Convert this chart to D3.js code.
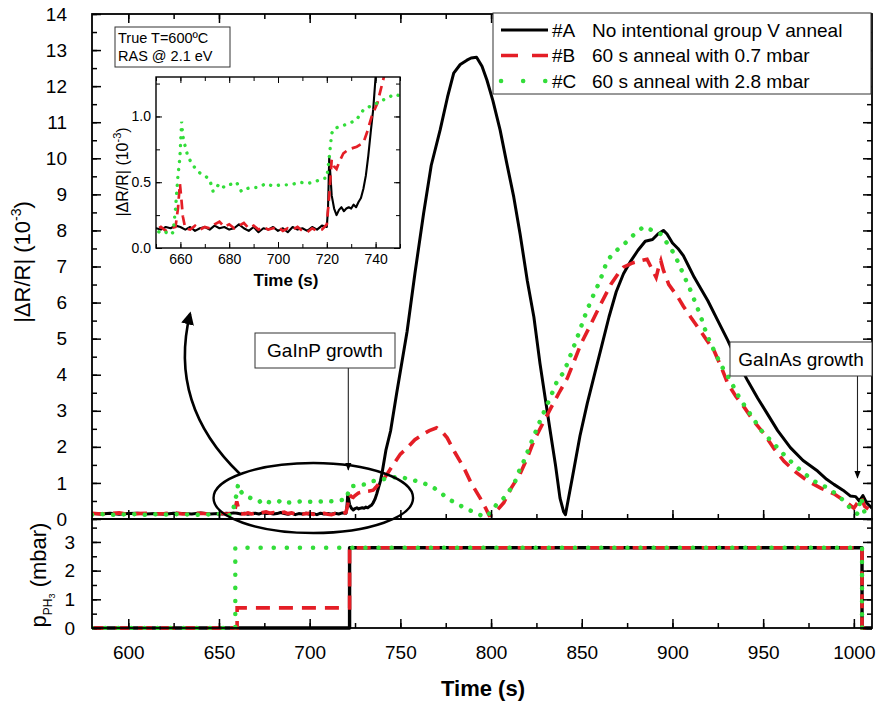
<!DOCTYPE html>
<html>
<head>
<meta charset="utf-8">
<script src="https://cdn.jsdelivr.net/npm/d3@7"></script>
<style>
  body { margin: 0; background: #fff; }
  svg text { font-family: "Liberation Sans", Arial, sans-serif; fill: #000; }
</style>
</head>
<body>
<div id="chart"></div>
<script>
// RAS transients, |dR/R| (10^-3) vs time (s)
const timeA = [580, 585, 590, 595, 600, 605, 610, 615, 620, 625, 630, 635, 640, 645, 650, 652, 654, 656, 658, 660, 662, 664, 666, 668, 670, 672, 674, 676, 678, 680, 682, 684, 686, 688, 690, 692, 694, 696, 698, 700, 702, 704, 706, 708, 710, 712, 714, 716, 718, 720, 720.5, 721, 721.5, 722, 723, 724, 725, 726, 727, 728, 729, 730, 731, 732, 733, 734, 735, 736, 737, 738, 739, 740, 742, 744.6, 748, 753.7, 758, 762.8, 767, 772, 776, 779.4, 783, 786.7, 789, 792, 795, 797.7, 801, 805, 808.5, 812.5, 816, 820, 823.6, 827, 830, 832.6, 835.5, 838, 840, 841, 845, 849, 853, 857, 861, 865, 869, 873, 877, 881, 885, 889, 892, 895, 897, 900, 903, 906, 909, 912, 915.5, 919.5, 925, 930.5, 936, 941.5, 947, 952.5, 958, 965, 972, 980, 985, 989, 994, 998, 1001, 1003, 1005, 1007, 1010];
const valueA = [0.15, 0.14, 0.16, 0.13, 0.15, 0.16, 0.14, 0.15, 0.13, 0.16, 0.15, 0.14, 0.17, 0.14, 0.15, 0.14, 0.16, 0.15, 0.17, 0.16, 0.14, 0.16, 0.13, 0.15, 0.16, 0.14, 0.17, 0.15, 0.16, 0.14, 0.15, 0.18, 0.15, 0.13, 0.16, 0.12, 0.15, 0.14, 0.16, 0.13, 0.15, 0.12, 0.16, 0.14, 0.15, 0.13, 0.16, 0.14, 0.17, 0.16, 0.3, 0.69, 0.55, 0.4, 0.3, 0.25, 0.29, 0.31, 0.28, 0.3, 0.31, 0.3, 0.33, 0.31, 0.35, 0.38, 0.45, 0.55, 0.7, 0.88, 1.05, 1.3, 1.9, 2.44, 3.5, 5.2, 6.8, 8.47, 9.8, 10.8, 11.7, 12.36, 12.6, 12.72, 12.78, 12.8, 12.55, 12.17, 11.6, 10.78, 9.9, 8.93, 7.9, 6.6, 5.6, 4.3, 3.3, 2.44, 1.5, 0.58, 0.2, 0.12, 1.2, 2.3, 3.2, 4.0, 4.8, 5.6, 6.3, 6.8, 7.15, 7.45, 7.7, 7.75, 7.9, 8.0, 7.9, 7.65, 7.5, 7.3, 7.0, 6.7, 6.4, 6.05, 5.5, 4.95, 4.35, 3.83, 3.35, 2.9, 2.45, 1.98, 1.62, 1.33, 1.1, 0.96, 0.8, 0.64, 0.62, 0.5, 0.65, 0.45, 0.3];

const timeB = [580, 585, 590, 595, 600, 605, 610, 615, 620, 625, 630, 635, 640, 645, 650, 652, 654, 656, 658, 659, 659.8, 660.5, 661, 662, 664, 666, 668, 670, 672, 674, 676, 678, 680, 682, 684, 686, 688, 690, 692, 694, 696, 698, 700, 702, 704, 706, 708, 710, 712, 714, 716, 718, 720, 721, 722, 723, 724, 725, 726.8, 729, 732.3, 735, 736.5, 738.4, 740.7, 743, 746, 750, 753.7, 758, 762.8, 766, 770, 773, 775.8, 780, 785, 789, 794, 797, 799, 801, 804, 807, 811, 816, 820, 823.5, 828, 833, 837.5, 842, 846, 849.5, 855, 860.5, 866, 870, 873, 878, 882.5, 886, 888, 891, 892.5, 893.6, 895, 898, 903, 906, 910, 915.6, 919, 923, 927, 930.5, 935, 939.5, 945, 950.5, 956, 961.5, 968, 974.7, 982, 989, 995, 1000, 1002, 1004, 1006, 1010];
const valueB = [0.16, 0.14, 0.15, 0.17, 0.13, 0.15, 0.16, 0.14, 0.15, 0.17, 0.14, 0.15, 0.16, 0.14, 0.14, 0.16, 0.13, 0.15, 0.16, 0.3, 0.49, 0.35, 0.24, 0.15, 0.14, 0.17, 0.14, 0.16, 0.15, 0.18, 0.2, 0.16, 0.18, 0.15, 0.17, 0.19, 0.15, 0.17, 0.14, 0.16, 0.14, 0.15, 0.16, 0.13, 0.15, 0.14, 0.16, 0.13, 0.12, 0.15, 0.13, 0.14, 0.18, 0.4, 0.67, 0.62, 0.6, 0.65, 0.72, 0.75, 0.77, 0.8, 0.88, 1.0, 1.1, 1.27, 1.5, 1.8, 1.97, 2.2, 2.36, 2.45, 2.53, 2.42, 2.25, 1.85, 1.42, 1.0, 0.58, 0.3, 0.1, 0.12, 0.28, 0.45, 0.85, 1.25, 1.7, 2.16, 2.6, 3.08, 3.5, 3.9, 4.4, 4.85, 5.4, 5.96, 6.5, 6.8, 6.98, 7.1, 7.16, 7.2, 7.0, 6.7, 7.0, 7.16, 6.9, 6.5, 6.15, 5.9, 5.6, 5.2, 4.95, 4.66, 4.2, 3.75, 3.4, 3.1, 2.7, 2.36, 1.95, 1.6, 1.3, 1.05, 0.85, 0.7, 0.5, 0.3, 0.45, 0.6, 0.35, 0.2];

const timeC = [580, 585, 590, 595, 600, 605, 610, 615, 620, 625, 630, 635, 640, 645, 650, 652, 654, 656, 657, 658, 659, 659.8, 660.5, 661, 662, 663, 665, 668, 670, 672, 673.4, 676, 678, 680, 683, 685, 687, 689, 691, 693, 695, 698, 701, 705, 709, 712, 714.3, 716, 718.4, 720, 721, 722, 723, 725, 728, 732, 735, 738, 740.5, 744.6, 748, 752, 755.6, 761, 766.7, 771, 775.8, 781, 786.7, 792, 797, 800, 803, 807, 812.6, 816, 818, 822, 827, 832.6, 837, 840, 844, 848, 851.5, 855, 860, 864, 868, 873, 878, 884, 889, 893.6, 897, 901, 905, 910, 913, 915.7, 919, 923, 927, 932, 937, 943, 949, 956, 963, 971, 978, 985.7, 990, 994.6, 998, 1002, 1004, 1006, 1010];
const valueC = [0.12, 0.14, 0.11, 0.13, 0.12, 0.14, 0.11, 0.13, 0.12, 0.14, 0.12, 0.13, 0.11, 0.13, 0.14, 0.11, 0.12, 0.1, 0.12, 0.3, 0.55, 0.69, 0.96, 0.85, 0.77, 0.7, 0.63, 0.57, 0.55, 0.52, 0.43, 0.49, 0.46, 0.48, 0.5, 0.43, 0.45, 0.46, 0.46, 0.47, 0.49, 0.47, 0.48, 0.48, 0.5, 0.49, 0.5, 0.51, 0.53, 0.53, 0.69, 0.87, 0.91, 0.92, 0.94, 0.97, 1.05, 1.08, 1.1, 1.14, 1.17, 1.14, 1.1, 1.02, 0.92, 0.78, 0.58, 0.42, 0.28, 0.15, 0.05, 0.2, 0.4, 0.58, 0.96, 1.4, 1.6, 2.1, 2.72, 3.36, 3.9, 4.05, 4.57, 5.1, 5.6, 6.05, 6.6, 7.16, 7.4, 7.6, 7.85, 8.1, 8.0, 7.9, 7.65, 7.35, 6.9, 6.33, 5.95, 5.6, 5.1, 4.66, 4.25, 3.83, 3.35, 2.9, 2.45, 2.08, 1.7, 1.33, 1.05, 0.86, 0.7, 0.5, 0.3, 0.14, 0.6, 0.15, 0.1];

// PH3 partial pressure (mbar), step values
const pTimeA = [580, 722, 1004.5, 1010];
const pValueA = [0, 2.8, 0, 0];
const pTimeB = [580, 660, 722, 1004.5, 1010];
const pValueB = [0, 0.7, 2.8, 0, 0];
const pTimeC = [580, 659, 1004.5, 1010];
const pValueC = [0, 2.8, 0, 0];

const seriesNames = ["#A", "#B", "#C"];
const seriesLabels = ["No intentional group V anneal", "60 s anneal with 0.7 mbar", "60 s anneal with 2.8 mbar"];

const mainTicksX = [600, 650, 700, 750, 800, 850, 900, 950, 1000];
const insetTicksX = [660, 680, 700, 720, 740];
const insetTicksY = [0.0, 0.5, 1.0];

const colors = { A: "#000000", B: "#e41e26", C: "#33dd3a" };

const width = 877, height = 701;
const svg = d3.select("#chart").append("svg")
    .attr("width", width)
    .attr("height", height);

// Scales
const x = d3.scaleLinear().domain([580, 1010]).range([92, 872]);
const y = d3.scaleLinear().domain([0, 14]).range([519, 14]);
const yP = d3.scaleLinear().domain([0, 3.8]).range([628, 519]);
const xi = d3.scaleLinear().domain([650, 750]).range([156, 400]);
const yi = d3.scaleLinear().domain([0, 1.3]).range([248, 77]);

const zip = (ts, vs) => ts.map((t, i) => ({ t: t, v: vs[i] }));
const dataA = zip(timeA, valueA), dataB = zip(timeB, valueB), dataC = zip(timeC, valueC);

// Clip regions
const defs = svg.append("defs");
defs.append("clipPath").attr("id", "clipMain").append("rect")
    .attr("x", x.range()[0]).attr("y", y.range()[1])
    .attr("width", x.range()[1] - x.range()[0]).attr("height", y.range()[0] - y.range()[1]);
defs.append("clipPath").attr("id", "clipP").append("rect")
    .attr("x", x.range()[0]).attr("y", yP.range()[1])
    .attr("width", x.range()[1] - x.range()[0]).attr("height", yP.range()[0] - yP.range()[1] + 2);
defs.append("clipPath").attr("id", "clipInset").append("rect")
    .attr("x", xi.range()[0]).attr("y", yi.range()[1])
    .attr("width", xi.range()[1] - xi.range()[0]).attr("height", yi.range()[0] - yi.range()[1]);
defs.append("marker").attr("id", "head")
    .attr("viewBox", "0 0 10 10").attr("refX", 9).attr("refY", 5)
    .attr("markerWidth", 7).attr("markerHeight", 7).attr("orient", "auto")
    .append("path").attr("d", "M0,1 L10,5 L0,9 Z").attr("fill", "#000");
defs.append("marker").attr("id", "bigHead")
    .attr("viewBox", "0 0 10 10").attr("refX", 8).attr("refY", 5)
    .attr("markerWidth", 5).attr("markerHeight", 5).attr("orient", "auto")
    .append("path").attr("d", "M0,0 L10,5 L0,10 Z").attr("fill", "#000");

// Styles per series
function styleLine(sel, key, scale) {
    const s = scale || 1;
    sel.attr("fill", "none").attr("stroke", colors[key]);
    if (key === "A") sel.attr("stroke-width", 3 * s).attr("stroke-linejoin", "round");
    if (key === "B") sel.attr("stroke-width", 3.6 * s).attr("stroke-dasharray", `${13 * s},${8 * s}`);
    if (key === "C") sel.attr("stroke-width", 4.5 * s).attr("stroke-linecap", "round")
        .attr("stroke-dasharray", `0.1,${10.5 * s}`);
    return sel;
}

// Axis helper: major ticks with labels plus minor ticks, drawn inward
function drawAxis(g, axisFn, scale, majors, minors, major, minor, fmt, pad) {
    g.append("g").call(axisFn(scale).tickValues(minors).tickSizeInner(-minor).tickSizeOuter(0).tickFormat(""))
        .call(s => s.select(".domain").remove());
    g.append("g").call(axisFn(scale).tickValues(majors).tickSizeInner(-major).tickSizeOuter(0)
        .tickPadding(pad).tickFormat(fmt))
        .call(s => s.select(".domain").remove());
}
const none = () => "";
const range = (a, b, st) => d3.range(a, b + st / 2, st);

// ---------- main panel ----------
const main = svg.append("g");
const lineMain = d3.line().x(d => x(d.t)).y(d => y(d.v));
const mainLines = main.append("g").attr("clip-path", "url(#clipMain)");
styleLine(mainLines.append("path").datum(dataA).attr("d", lineMain), "A");
styleLine(mainLines.append("path").datum(dataB).attr("d", lineMain), "B");
styleLine(mainLines.append("path").datum(dataC).attr("d", lineMain), "C");

const minorX = range(575, 1010, 25).filter(v => v >= 580);
drawAxis(main.append("g").attr("transform", `translate(0,${y(0)})`), d3.axisBottom, x, mainTicksX, minorX, 9, 5, none, 0);
drawAxis(main.append("g").attr("transform", `translate(0,${y(14)})`), d3.axisTop, x, mainTicksX, minorX, 9, 5, none, 0);
drawAxis(main.append("g").attr("transform", `translate(${x(580)},0)`), d3.axisLeft, y, range(0, 14, 1), range(0, 14, 0.5), 9, 5, d3.format("d"), 25);
drawAxis(main.append("g").attr("transform", `translate(${x(1010)},0)`), d3.axisRight, y, range(0, 14, 1), range(0, 14, 0.5), 9, 5, none, 0);
main.selectAll(".tick text").attr("font-size", 19).attr("font-family", "Liberation Sans, Arial, sans-serif");

main.append("rect")
    .attr("x", x(580)).attr("y", y(14))
    .attr("width", x(1010) - x(580)).attr("height", y(0) - y(14))
    .attr("fill", "none").attr("stroke", "#000").attr("stroke-width", 1.8);

const yTitle = main.append("text")
    .attr("transform", `translate(30,262) rotate(-90)`)
    .attr("text-anchor", "middle").attr("font-size", 22);
yTitle.append("tspan").text("|ΔR/R| (10");
yTitle.append("tspan").attr("dy", -9).attr("font-size", 14).text("-3");
yTitle.append("tspan").attr("dy", 9).text(")");

// ellipse and curved arrow around the pre-growth region
main.append("ellipse")
    .attr("cx", (x(647) + x(757)) / 2).attr("cy", 498)
    .attr("rx", (x(757) - x(647)) / 2).attr("ry", 35)
    .attr("fill", "none").attr("stroke", "#000").attr("stroke-width", 2.4);
main.append("path")
    .attr("d", "M240,474 Q168,405 190,314")
    .attr("fill", "none").attr("stroke", "#000").attr("stroke-width", 2.6)
    .attr("marker-end", "url(#bigHead)");

// growth annotations
function annotation(label, t, boxX, boxY, boxW, boxH, tipY) {
    const g = main.append("g");
    g.append("line")
        .attr("x1", x(t)).attr("x2", x(t))
        .attr("y1", boxY + boxH).attr("y2", tipY)
        .attr("stroke", "#222").attr("stroke-width", 1.1)
        .attr("marker-end", "url(#head)");
    g.append("rect")
        .attr("x", boxX).attr("y", boxY).attr("width", boxW).attr("height", boxH)
        .attr("fill", "#fff").attr("stroke", "#333").attr("stroke-width", 1);
    g.append("text")
        .attr("x", boxX + boxW / 2).attr("y", boxY + boxH / 2)
        .attr("dy", "0.35em").attr("text-anchor", "middle")
        .attr("font-size", 19).text(label);
}
annotation("GaInP growth", 721.3, 255, 333, 140, 35, 470);
annotation("GaInAs growth", 1002, 730, 342, 142, 34, 478);

// legend
const legend = main.append("g");
legend.append("rect")
    .attr("x", 493).attr("y", 13).attr("width", 378).attr("height", 81)
    .attr("fill", "#fff").attr("stroke", "#333").attr("stroke-width", 1);
["A", "B", "C"].forEach((k, i) => {
    const yy = 30 + i * 25.5;
    styleLine(legend.append("line")
        .attr("x1", 501).attr("x2", 548).attr("y1", yy).attr("y2", yy), k)
        .attr("stroke-dasharray", k === "B" ? "17,14" : (k === "C" ? "0.1,22" : null));
    legend.append("text").attr("x", 552).attr("y", yy).attr("dy", "0.35em")
        .attr("font-size", 19).text(seriesNames[i]);
    legend.append("text").attr("x", 592).attr("y", yy).attr("dy", "0.35em")
        .attr("font-size", 19).text(seriesLabels[i]);
});

// conditions box
const cond = main.append("g");
cond.append("rect").attr("x", 115).attr("y", 27).attr("width", 115).attr("height", 40)
    .attr("fill", "#fff").attr("stroke", "#333").attr("stroke-width", 1);
cond.append("text").attr("x", 118).attr("y", 43).attr("font-size", 14.5).text("True T=600ºC");
cond.append("text").attr("x", 118).attr("y", 61).attr("font-size", 14.5).text("RAS @ 2.1 eV");

// ---------- inset ----------
const inset = svg.append("g");
inset.append("rect")
    .attr("x", xi.range()[0]).attr("y", yi.range()[1])
    .attr("width", xi.range()[1] - xi.range()[0]).attr("height", yi.range()[0] - yi.range()[1])
    .attr("fill", "#fff");
const lineInset = d3.line().x(d => xi(d.t)).y(d => yi(d.v));
const insetLines = inset.append("g").attr("clip-path", "url(#clipInset)");
styleLine(insetLines.append("path").datum(dataA.filter(d => d.t >= 645 && d.t <= 760)).attr("d", lineInset), "A", 0.7);
styleLine(insetLines.append("path").datum(dataB.filter(d => d.t >= 645 && d.t <= 760)).attr("d", lineInset), "B", 0.75);
styleLine(insetLines.append("path").datum(dataC.filter(d => d.t >= 645 && d.t <= 760)).attr("d", lineInset), "C", 0.75);

drawAxis(inset.append("g").attr("transform", `translate(0,${yi(0)})`), d3.axisBottom, xi, insetTicksX, range(650, 750, 10), 6, 4, d3.format("d"), 6);
drawAxis(inset.append("g").attr("transform", `translate(0,${yi(1.3)})`), d3.axisTop, xi, insetTicksX, range(650, 750, 10), 6, 4, none, 0);
drawAxis(inset.append("g").attr("transform", `translate(${xi(650)},0)`), d3.axisLeft, yi, insetTicksY, range(0, 1.25, 0.25), 6, 4, d3.format(".1f"), 5);
drawAxis(inset.append("g").attr("transform", `translate(${xi(750)},0)`), d3.axisRight, yi, insetTicksY, range(0, 1.25, 0.25), 6, 4, none, 0);
inset.selectAll(".tick text").attr("font-size", 14).attr("font-family", "Liberation Sans, Arial, sans-serif");
inset.selectAll(".tick line").attr("stroke-width", 1);

inset.append("rect")
    .attr("x", xi.range()[0]).attr("y", yi.range()[1])
    .attr("width", xi.range()[1] - xi.range()[0]).attr("height", yi.range()[0] - yi.range()[1])
    .attr("fill", "none").attr("stroke", "#000").attr("stroke-width", 1.4);

inset.append("text").attr("x", (xi(650) + xi(750)) / 2 + 8).attr("y", 286)
    .attr("text-anchor", "middle").attr("font-size", 17).attr("font-weight", "bold").text("Time (s)");
const iTitle = inset.append("text")
    .attr("transform", `translate(128,172) rotate(-90)`)
    .attr("text-anchor", "middle").attr("font-size", 16);
iTitle.append("tspan").text("|ΔR/R| (10");
iTitle.append("tspan").attr("dy", -7).attr("font-size", 11).text("-3");
iTitle.append("tspan").attr("dy", 7).text(")");

// ---------- pressure panel ----------
const bottom = svg.append("g");
const lineP = d3.line().x(d => x(d.t)).y(d => yP(d.v)).curve(d3.curveStepAfter);
const pLines = bottom.append("g").attr("clip-path", "url(#clipP)");
styleLine(pLines.append("path").datum(zip(pTimeA, pValueA)).attr("d", lineP), "A").attr("stroke-width", 3.4);
styleLine(pLines.append("path").datum(zip(pTimeB, pValueB)).attr("d", lineP), "B").attr("stroke-dasharray", "14,9");
styleLine(pLines.append("path").datum(zip(pTimeC, pValueC)).attr("d", lineP), "C").attr("stroke-dasharray", "0.1,13");

drawAxis(bottom.append("g").attr("transform", `translate(0,${yP(0)})`), d3.axisBottom, x, mainTicksX, minorX, 9, 5, d3.format("d"), 18);
drawAxis(bottom.append("g").attr("transform", `translate(${x(580)},0)`), d3.axisLeft, yP, [0, 1, 2, 3], range(0, 3.5, 0.5), 9, 5, d3.format("d"), 17);
drawAxis(bottom.append("g").attr("transform", `translate(${x(1010)},0)`), d3.axisRight, yP, [0, 1, 2, 3], range(0, 3.5, 0.5), 9, 5, none, 0);
bottom.selectAll(".tick text").attr("font-size", 19).attr("font-family", "Liberation Sans, Arial, sans-serif");

bottom.append("rect")
    .attr("x", x(580)).attr("y", yP(3.8))
    .attr("width", x(1010) - x(580)).attr("height", yP(0) - yP(3.8))
    .attr("fill", "none").attr("stroke", "#000").attr("stroke-width", 1.8);

const pTitle = bottom.append("text")
    .attr("transform", `translate(46,575) rotate(-90)`)
    .attr("text-anchor", "middle").attr("font-size", 22);
pTitle.append("tspan").text("p");
pTitle.append("tspan").attr("dy", 6).attr("font-size", 12).text("PH");
pTitle.append("tspan").attr("dy", 3).attr("font-size", 9).text("3");
pTitle.append("tspan").attr("dy", -9).text(" (mbar)");

svg.append("text").attr("x", 483).attr("y", 696)
    .attr("text-anchor", "middle").attr("font-size", 22).attr("font-weight", "bold").text("Time (s)");

svg.selectAll(".tick line").attr("stroke", "#000");
main.selectAll(".tick line").attr("stroke-width", 1.5);
bottom.selectAll(".tick line").attr("stroke-width", 1.5);
</script>
</body>
</html>
